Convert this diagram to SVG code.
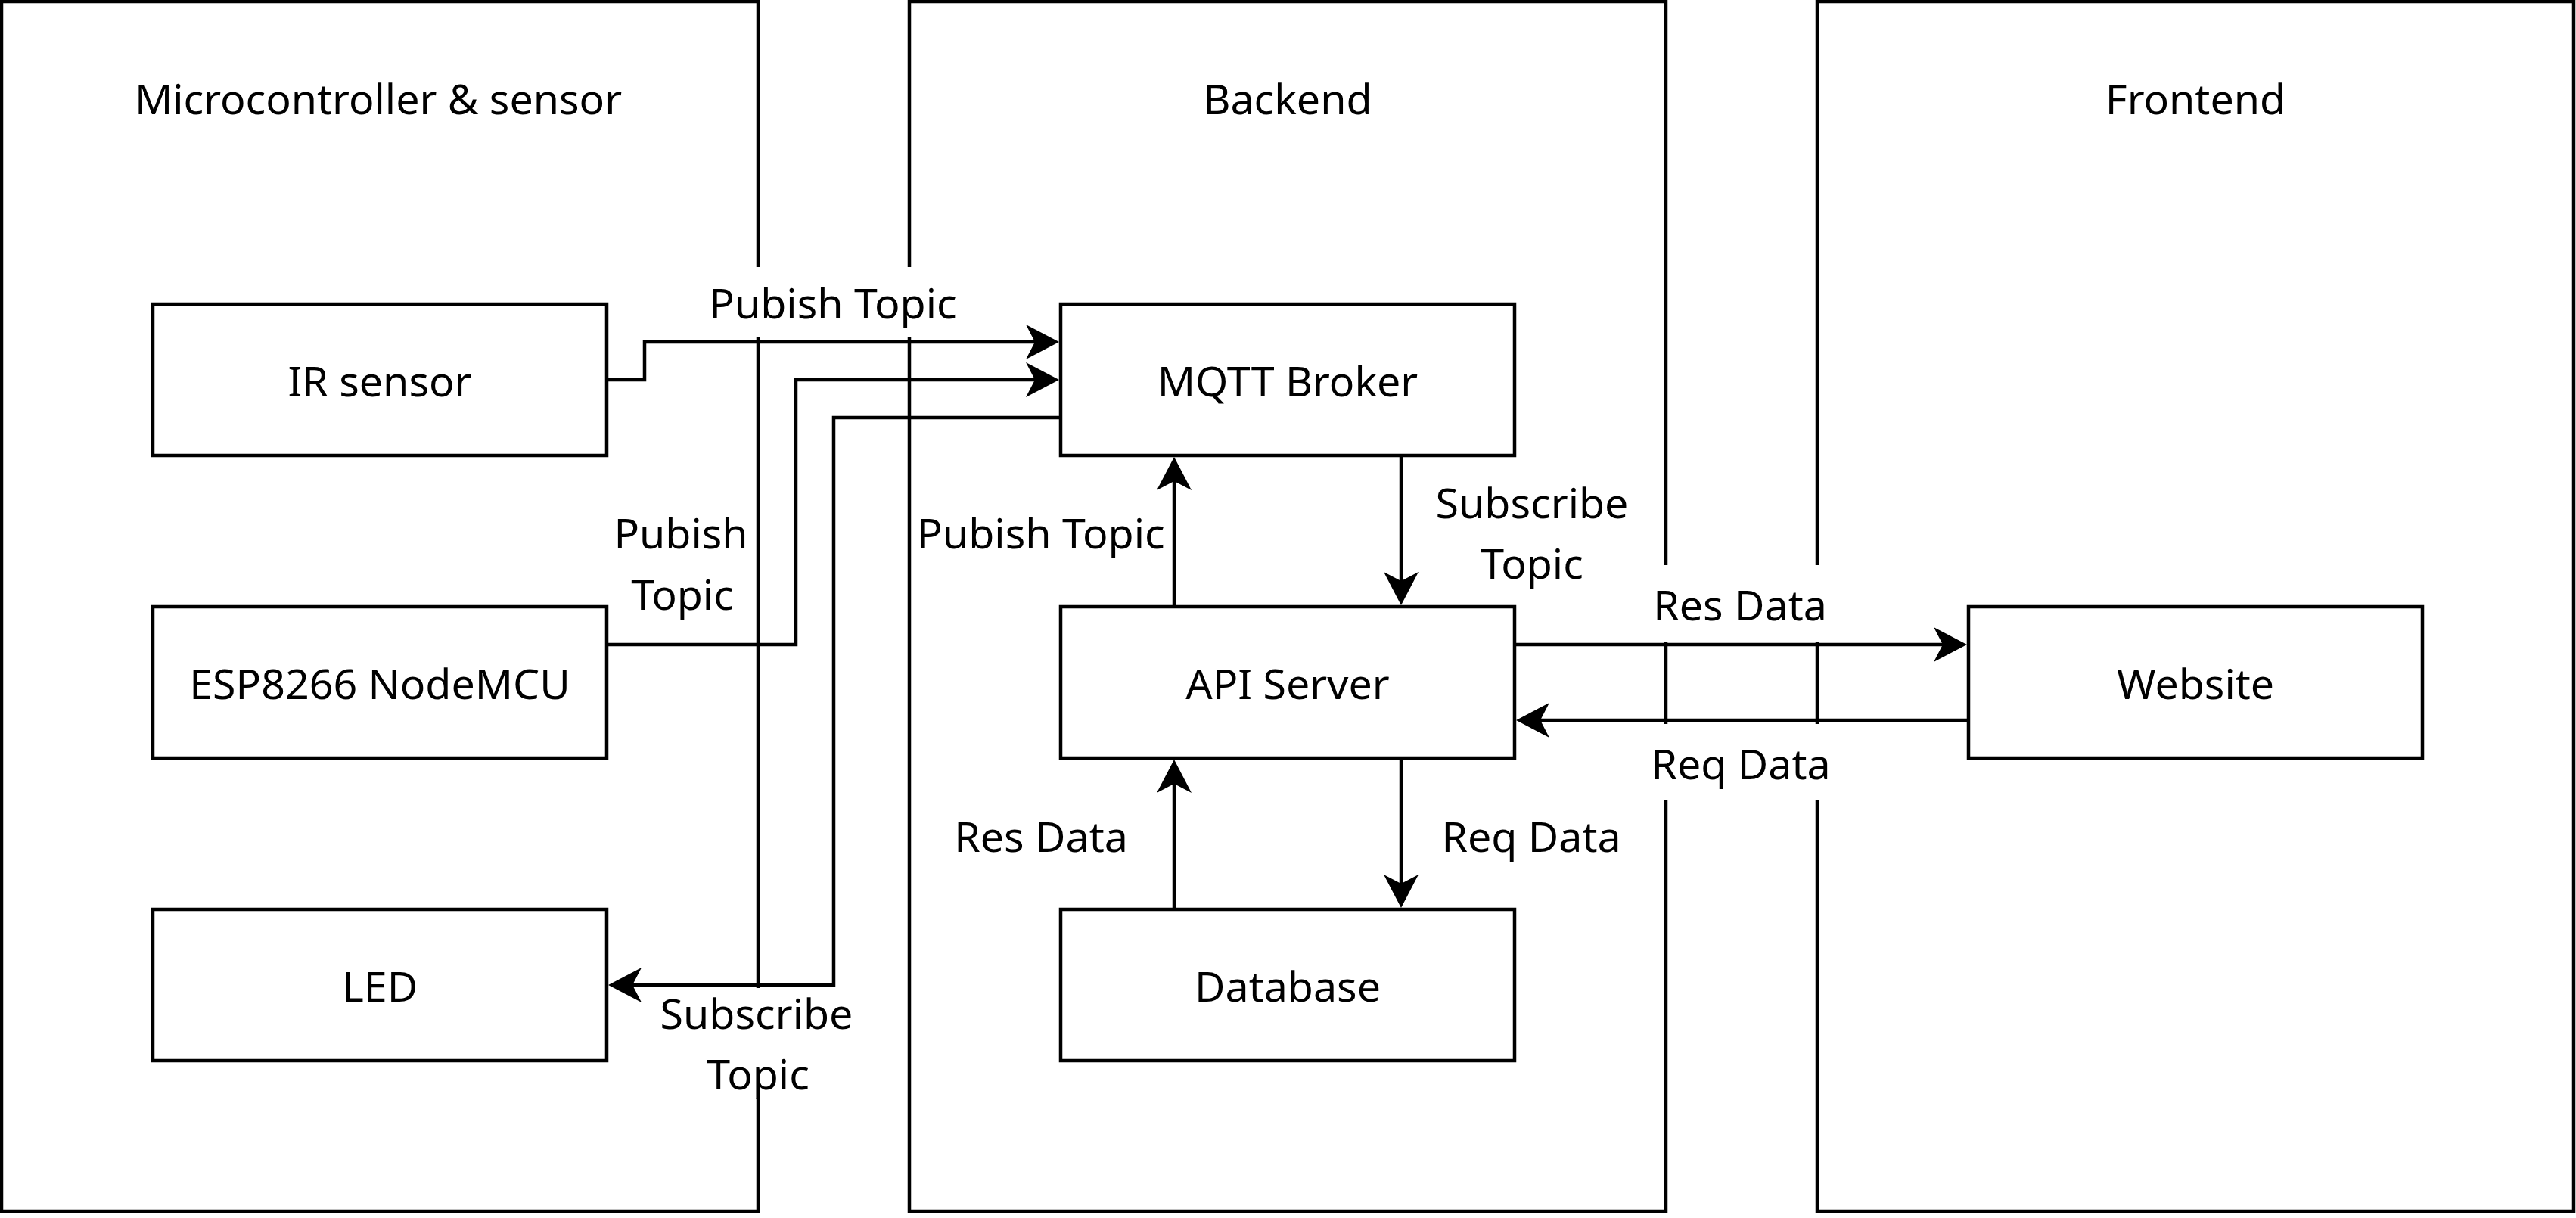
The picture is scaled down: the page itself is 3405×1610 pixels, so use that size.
<svg xmlns="http://www.w3.org/2000/svg" width="3405" height="1610" viewBox="0 0 3405 1610">
<style>
.box{fill:none;stroke:#000;stroke-width:4.5}
.node{fill:#fff;stroke:#000;stroke-width:4.5}
.edge{fill:none;stroke:#000;stroke-width:4.5}
.bg{fill:#fff;stroke:none}
text{font-family:"Noto Sans","Open Sans","DejaVu Sans",sans-serif;font-size:55.5px;fill:#000;text-anchor:middle}
</style>
<defs>
<marker id="arr" viewBox="-36 -25 48 50" refX="0" refY="0" markerWidth="48" markerHeight="50" markerUnits="userSpaceOnUse" orient="auto">
<path d="M10,0 L-34,-23 L-22,0 L-34,23 Z" fill="#000"/>
</marker>
</defs>
<rect width="3405" height="1610" fill="#fff"/>
<g id="container-micro">
<rect class="box" x="2" y="2" width="1000" height="1599"/>
<text x="500" y="151">Microcontroller &amp; sensor</text>
</g>
<g id="container-backend">
<rect class="box" x="1202" y="2" width="1000" height="1599"/>
<text x="1702" y="151">Backend</text>
</g>
<g id="container-frontend">
<rect class="box" x="2402" y="2" width="1000" height="1599"/>
<text x="2902" y="151">Frontend</text>
</g>
<g id="connectors">
<path class="edge" d="M802,502 H852 V452 H1390" marker-end="url(#arr)"/>
<path class="edge" d="M802,852 H1052 V502 H1390" marker-end="url(#arr)"/>
<path class="edge" d="M1402,552 H1102 V1302 H814" marker-end="url(#arr)"/>
<path class="edge" d="M1552,802 V614" marker-end="url(#arr)"/>
<path class="edge" d="M1852,602 V790" marker-end="url(#arr)"/>
<path class="edge" d="M1552,1202 V1014" marker-end="url(#arr)"/>
<path class="edge" d="M1852,1002 V1190" marker-end="url(#arr)"/>
<path class="edge" d="M2002,852 H2590" marker-end="url(#arr)"/>
<path class="edge" d="M2602,952 H2014" marker-end="url(#arr)"/>
<rect class="bg" x="925" y="353" width="355" height="93"/>
<text x="1101" y="421">Pubish Topic</text>
<text x="900" y="725">Pubish</text>
<text x="902" y="806">Topic</text>
<rect class="bg" x="870" y="1306" width="262" height="145"/>
<text x="1000" y="1360">Subscribe</text>
<text x="1002" y="1440">Topic</text>
<text x="1376" y="725">Pubish Topic</text>
<text x="2025" y="685">Subscribe</text>
<text x="2025" y="765">Topic</text>
<text x="1376" y="1126">Res Data</text>
<text x="2024" y="1126">Req Data</text>
<rect class="bg" x="2180" y="747" width="240" height="101"/>
<text x="2300" y="820">Res Data</text>
<rect class="bg" x="2180" y="957" width="240" height="100"/>
<text x="2301" y="1030">Req Data</text>
</g>
<g id="node-ir">
<rect class="node" x="202" y="402" width="600" height="200"/>
<text x="502" y="524">IR sensor</text>
</g>
<g id="node-esp">
<rect class="node" x="202" y="802" width="600" height="200"/>
<text x="502" y="924">ESP8266 NodeMCU</text>
</g>
<g id="node-led">
<rect class="node" x="202" y="1202" width="600" height="200"/>
<text x="502" y="1324">LED</text>
</g>
<g id="node-mqtt">
<rect class="node" x="1402" y="402" width="600" height="200"/>
<text x="1702" y="524">MQTT Broker</text>
</g>
<g id="node-api">
<rect class="node" x="1402" y="802" width="600" height="200"/>
<text x="1702" y="924">API Server</text>
</g>
<g id="node-db">
<rect class="node" x="1402" y="1202" width="600" height="200"/>
<text x="1702" y="1324">Database</text>
</g>
<g id="node-web">
<rect class="node" x="2602" y="802" width="600" height="200"/>
<text x="2902" y="924">Website</text>
</g>
</svg>
